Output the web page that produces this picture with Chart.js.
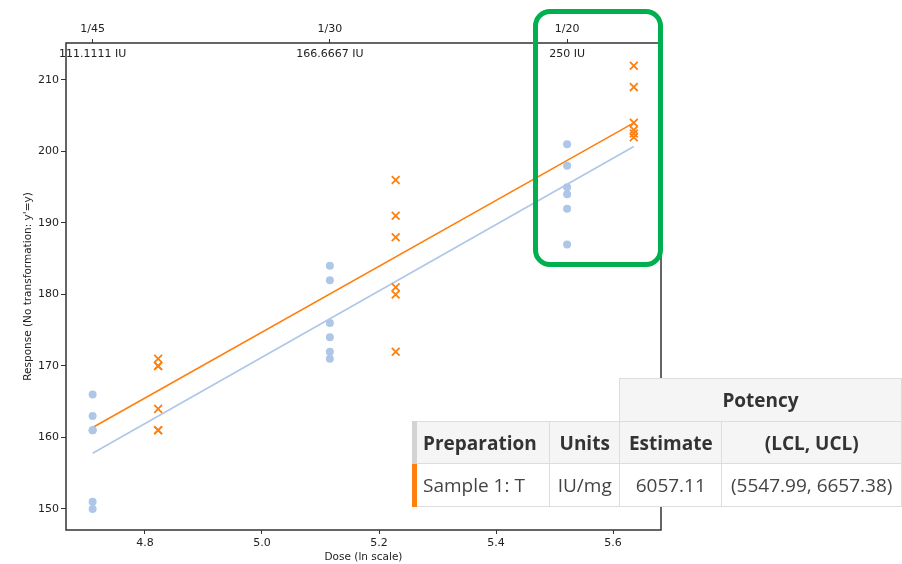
<!DOCTYPE html>
<html>
<head>
<meta charset="utf-8">
<script src="https://cdn.jsdelivr.net/npm/chart.js@4"></script>
<style>
  body { margin: 0; background: #fff; overflow: hidden; }
  #wrap { position: relative; width: 902px; height: 564px; overflow: hidden; }
  #myChart { position: absolute; left: 0; top: 0; }
  #highlight {
    position: absolute; left: 533px; top: 9px; width: 130px; height: 258px;
    box-sizing: border-box; border: 5px solid #00b050; border-radius: 17px;
  }
  #potency {
    position: absolute; left: 412px; top: 378px;
    border-collapse: collapse; table-layout: fixed;
    font-family: "Open Sans", sans-serif; font-size: 19px; color: #333;
  }
  #potency td, #potency th { border: 1px solid #ddd; padding: 0 6px; white-space: nowrap; }
  #potency tr.top { height: 43px; }
  #potency tr.head { height: 42px; }
  #potency tr.body { height: 43px; }
  #potency th { background: #f5f5f5; font-weight: 700; text-align: center; }
  #potency .empty { border: none; background: transparent; }
  #potency th.first { border-left: 5px solid #d3d3d3; text-align: left; }
  #potency td { background: #fff; text-align: center; color: #444; }
  #potency td.first { border-left: 5px solid #ff7f0e; text-align: left; }
</style>
</head>
<body>
<div id="wrap">
  <canvas id="myChart" width="902" height="564"></canvas>
  <div id="highlight"></div>
  <table id="potency">
    <colgroup>
      <col style="width:136px"><col style="width:70px"><col style="width:103px"><col style="width:180px">
    </colgroup>
    <tr class="top"><th class="empty"></th><th class="empty"></th><th colspan="2">Potency</th></tr>
    <tr class="head"><th class="first">Preparation</th><th>Units</th><th>Estimate</th><th>(LCL, UCL)</th></tr>
    <tr class="body"><td class="first">Sample 1: T</td><td>IU/mg</td><td>6057.11</td><td>(5547.99, 6657.38)</td></tr>
  </table>
</div>
<script>
const ctx = document.getElementById('myChart');

// dilutions of the standard, shown on the top axis
const doseLabels = ['1/45', '1/30', '1/20'];
const doseIU = ['111.1111 IU', '166.6667 IU', '250 IU'];

// ln(dose) per group
const refLogDose = [4.7105, 5.1160, 5.5215];
const testLogDose = [4.8225, 5.2285, 5.6355];

// responses, one list per dose
const refResponse = [
  [166, 163, 161, 161, 151, 150],
  [184, 182, 176, 174, 172, 171],
  [201, 198, 195, 194, 192, 187]
];
const testResponse = [
  [171, 170, 170, 164, 161, 161],
  [196, 191, 188, 181, 180, 172],
  [212, 209, 204, 203, 202.5, 202]
];

// fitted lines, ends only
const fitLogDose = [4.7105, 5.6355];
const refFit = [157.8, 200.7];
const testFit = [161.4, 204.0];

const xTicks = [4.8, 5.0, 5.2, 5.4, 5.6];
const yTicks = [150, 160, 170, 180, 190, 200, 210];

const toPoints = (doses, groups) =>
  groups.flatMap((g, i) => g.map(y => ({ x: doses[i], y: y })));
const toLine = (ys) => fitLogDose.map((x, i) => ({ x: x, y: ys[i] }));

const font = { family: 'DejaVu Sans', size: 11 };
const titleFont = { family: 'DejaVu Sans', size: 10.5 };
const textColor = '#222';

const boxAndLabels = {
  id: 'boxAndLabels',
  afterDraw(chart) {
    const c = chart.ctx;
    const a = chart.chartArea;
    c.save();
    c.strokeStyle = '#333';
    c.lineWidth = 1.5;
    c.strokeRect(a.left, a.top, a.right - a.left, a.bottom - a.top);
    c.fillStyle = textColor;
    c.font = '11px "DejaVu Sans"';
    c.textAlign = 'center';
    c.textBaseline = 'middle';
    refLogDose.forEach((v, i) => {
      c.fillText(doseIU[i], chart.scales.x.getPixelForValue(v), a.top + 11);
    });
    c.restore();
  }
};

new Chart(ctx, {
  type: 'scatter',
  data: {
    datasets: [{
      label: 'Standard',
      data: toPoints(refLogDose, refResponse),
      pointStyle: 'circle',
      pointRadius: 4,
      backgroundColor: '#aec7e8',
      borderWidth: 0
    },
    {
      label: 'Sample 1: T',
      data: toPoints(testLogDose, testResponse),
      pointStyle: 'crossRot',
      pointRadius: 5.5,
      borderColor: '#ff7f0e',
      borderWidth: 1.8
    },
    {
      label: 'Standard fit',
      data: toLine(refFit),
      showLine: true,
      pointRadius: 0,
      borderColor: '#aec7e8',
      borderWidth: 1.6
    },
    {
      label: 'Sample fit',
      data: toLine(testFit),
      showLine: true,
      pointRadius: 0,
      borderColor: '#ff7f0e',
      borderWidth: 1.6
    }]
  },
  options: {
    responsive: false,
    devicePixelRatio: 1,
    animation: false,
    events: [],
    layout: { padding: { left: 0, right: 241, top: 0, bottom: 0 } },
    plugins: { legend: { display: false }, tooltip: { enabled: false } },
    scales: {
      x: {
        type: 'linear',
        position: 'bottom',
        min: 4.665,
        max: 5.682,
        afterBuildTicks: s => { s.ticks = xTicks.map(v => ({ value: v })); },
        afterFit: s => { s.height = 34; },
        grid: { drawOnChartArea: false, tickLength: 4, color: '#333' },
        border: { display: false },
        ticks: { font: font, color: textColor, padding: 3, maxRotation: 0, autoSkip: false,
          callback: v => v.toFixed(1) },
        title: { display: true, text: 'Dose (ln scale)', font: titleFont,
          color: textColor, padding: { top: 0, bottom: 0 } }
      },
      x2: {
        type: 'linear',
        position: 'top',
        min: 4.665,
        max: 5.682,
        afterBuildTicks: s => { s.ticks = refLogDose.map(v => ({ value: v })); },
        afterFit: s => { s.height = 43; },
        grid: { drawOnChartArea: false, tickLength: 4, color: '#333' },
        border: { display: false },
        ticks: { font: font, color: textColor, padding: 3, maxRotation: 0, autoSkip: false,
          callback: (v, i) => doseLabels[i] }
      },
      y: {
        type: 'linear',
        min: 147.06,
        max: 215.17,
        afterBuildTicks: s => { s.ticks = yTicks.map(v => ({ value: v })); },
        afterFit: s => { s.width = 66; },
        grid: { drawOnChartArea: false, tickLength: 5, color: '#333' },
        border: { display: false },
        ticks: { font: font, color: textColor, padding: 2, autoSkip: false },
        title: { display: true, text: "Response (No transformation: y'=y)",
          font: titleFont, color: textColor, padding: { top: 22, bottom: 0 } }
      }
    }
  },
  plugins: [boxAndLabels]
});
</script>
</body>
</html>
